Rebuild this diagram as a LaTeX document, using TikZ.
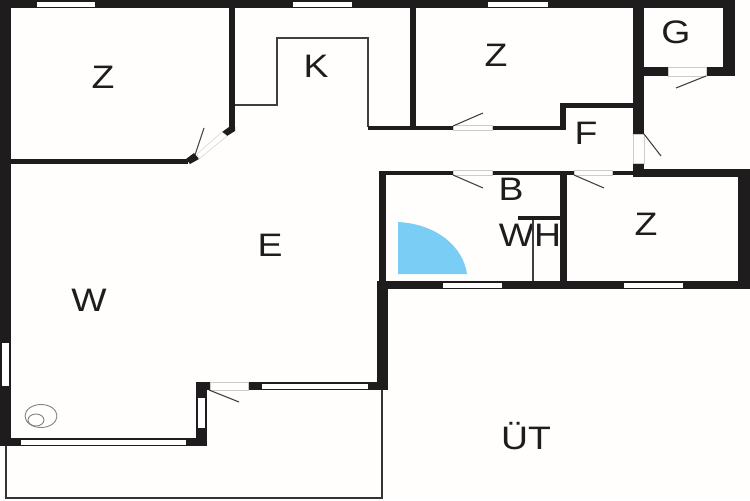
\documentclass[tikz,border=0pt]{standalone}
\usepackage{fontspec}
\setmainfont{Liberation Sans}
\definecolor{paper}{HTML}{FFFEFC}
\definecolor{ink}{HTML}{1E1C1C}
\definecolor{tub}{HTML}{7ACDF5}
\tikzset{
  wall/.style={fill=ink},
  win/.style={fill=white},
  doorgap/.style={fill=paper,draw=black!20,line width=0.25pt},
  leaf/.style={draw=ink!85,line width=0.6pt},
  thin/.style={draw=ink!85,line width=0.75pt},
  balc/.style={draw=ink!90,line width=1.1pt},
  lbl/.style={font=\fontsize{18.5}{21}\selectfont,text=ink,inner sep=0pt,xscale=1.15,transform shape},
}
\begin{document}
\begin{tikzpicture}[x=0.02cm,y=-0.02cm]
\useasboundingbox (0,0) rectangle (750,500);
\fill[paper] (0,0) rectangle (750,500);
% labels that the walls partly cover
\node[lbl] (wh) at (530,235) {WH};
% balcony and thin lines
\draw[balc] (6,446) -- (6,498) -- (382,498) -- (382,390);
\draw[thin] (235,105) -- (277,105) -- (277,38) -- (368,38) -- (368,127);
\draw[thin] (533,220) -- (533,281);
% outer and main walls
\fill[wall] (0,0) rectangle (735,8);
\fill[wall] (0,0) rectangle (11,446);
\fill[wall] (0,438) rectangle (207,446);
\fill[wall] (196,382) rectangle (207,446);
\fill[wall] (196,382) rectangle (388,390);
\fill[wall] (377,281) rectangle (388,390);
\fill[wall] (377,281) rectangle (750,289);
\fill[wall] (738,169) rectangle (750,289);
\fill[wall] (633,169) rectangle (750,177);
\fill[wall] (379,171) rectangle (633,175);
\fill[wall] (379,171) rectangle (386,281);
\fill[wall] (560,175) rectangle (567,281);
\fill[wall] (518,216) rectangle (560,220);
% upper rooms
\fill[wall] (229,8) rectangle (235,128);
\fill[wall] (11,159) rectangle (188,164);
\fill[wall] (186,159) -- (194,153) -- (199,159) -- (190,164) -- cycle;
\fill[wall] (222,132) -- (229,127) -- (235,127) -- (235,131) -- (227,136) -- cycle;
\fill[wall] (410,8) rectangle (416,126);
\fill[wall] (368,126) rectangle (566,130);
\fill[wall] (560,103) rectangle (566,130);
\fill[wall] (560,103) rectangle (633,108);
\fill[wall] (633,8) rectangle (644,177);
\fill[wall] (633,67) rectangle (735,76);
\fill[wall] (723,0) rectangle (735,76);
% windows
\fill[win] (37,2) rectangle (95,7);
\fill[win] (293,2) rectangle (352,7);
\fill[win] (488,2) rectangle (548,7);
\fill[win] (2,343) rectangle (9,386);
\fill[win] (21,440) rectangle (186,445);
\fill[win] (198,398) rectangle (205,428);
\fill[win] (262,384) rectangle (368,389);
\fill[win] (443,283) rectangle (502,288);
\fill[win] (624,283) rectangle (683,288);
% door openings
\filldraw[doorgap] (453,125.5) rectangle (492,130.5);
\filldraw[doorgap] (453,170.5) rectangle (492,175.5);
\filldraw[doorgap] (574,170.5) rectangle (612,175.5);
\filldraw[doorgap] (668,67) rectangle (706,76);
\filldraw[doorgap] (633,134) rectangle (644,163);
\filldraw[doorgap] (210,382) rectangle (248,390);
\filldraw[doorgap] (197,154) -- (222,132) -- (227,136) -- (199,159) -- cycle;
% door leaves
\draw[leaf] (195,155) -- (204,128);
\draw[leaf] (453,126) -- (483,113);
\draw[leaf] (453,175) -- (483,188);
\draw[leaf] (574,175) -- (604,188);
\draw[leaf] (706,76) -- (676,88);
\draw[leaf] (644,134) -- (661,156);
\draw[leaf] (209,390) -- (239,402);
% shower tray
\fill[tub] (398,222) .. controls (436,224) and (463,246) .. (467,274) -- (398,274) -- cycle;
% stove
\draw[black!50,line width=0.5pt] (41,416) ellipse [x radius=16,y radius=11.5];
\draw[black!50,line width=0.5pt] (36,420) ellipse [x radius=8,y radius=6];
% labels
\node[lbl] (z1) at (103,77) {Z};
\node[lbl] (k) at (316,66) {K};
\node[lbl] (e) at (270,245) {E};
\node[lbl] (w) at (89,300) {W};
\node[lbl] (z2) at (496,55) {Z};
\node[lbl] (g) at (676,32) {G};
\node[lbl] (f) at (586,133) {F};
\node[lbl] (b) at (511,189) {B};
\node[lbl] (z3) at (646,224) {Z};
\node[lbl] (ut) at (526,436) {ÜT};
\end{tikzpicture}
\end{document}
